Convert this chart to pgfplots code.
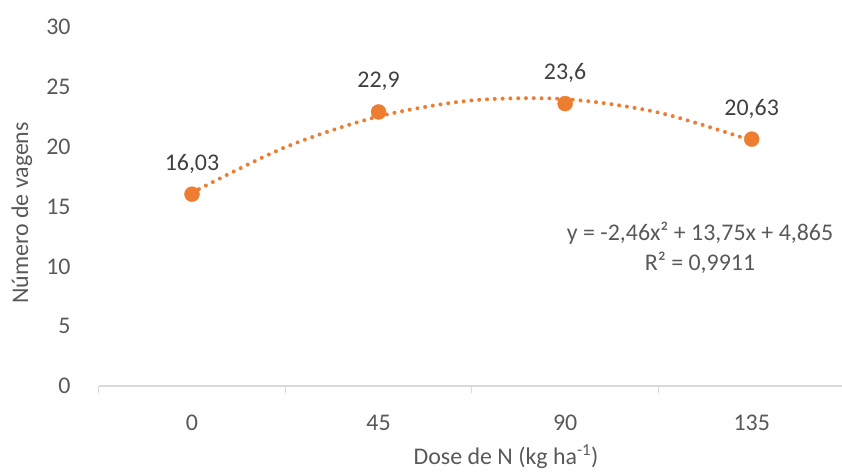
\documentclass[border=0pt]{standalone}
\usepackage{fontspec}
\setmainfont{Carlito}
\usepackage{pgfplots}
\pgfplotsset{compat=1.18}
\usepackage{pgfplotstable}
\definecolor{orng}{HTML}{ED7D31}
\definecolor{txt}{HTML}{595959}
\definecolor{lbl}{HTML}{404040}
\definecolor{axln}{HTML}{D9D9D9}
\pgfplotstableread{
x y label
1 16.03 16,03
2 22.9 22,9
3 23.6 23,6
4 20.63 20,63
}\dados
\pgfplotstableread{
x y
1 16.155
1.5 19.955
2 22.525
2.5 23.865
3 23.975
3.5 22.855
4 20.505
}\tendencia
\newcommand{\fs}{\fontsize{24pt}{28pt}\selectfont}
\begin{document}
\fs
\begin{tikzpicture}
\useasboundingbox (-98.7bp,-86bp) rectangle (743.3bp,386bp);
\begin{axis}[
  at={(0,0)}, anchor=south west,
  scale only axis, width=743.3bp, height=359bp,
  xmin=0.5, xmax=4.484, ymin=0, ymax=30,
  axis x line*=bottom, axis y line*=left,
  x axis line style={draw=axln, line width=1.2bp, -},
  y axis line style={draw=none},
  xtick={1,2,3,4}, xticklabels={0,45,90,135},
  major x tick style={draw=none},
  minor xtick={0.5,1.5,2.5,3.5},
  minor x tick style={draw=axln, line width=1.2bp},
  minor tick length=7bp,
  tick align=outside,
  ytick={0,5,...,30}, major y tick style={draw=none},
  /pgf/number format/assume math mode=true,
  every tick label/.append style={font=\fs, color=txt},
  xticklabel style={anchor=north, inner sep=0pt, yshift=-24.5bp},
  yticklabel style={anchor=east, inner sep=0pt},
  yticklabel shift=23.7bp,
  xlabel={Dose de N (kg ha\textsuperscript{-1})},
  ylabel={Número de vagens},
  xlabel style={at={(axis description cs:0.548,-0.1978)}, anchor=center, color=txt, font=\fs},
  ylabel style={at={(axis description cs:-0.1032,0.482)}, anchor=center, color=txt, font=\fs},
  clip=false,
]
\addplot[orng, line width=4bp, line cap=round, dash pattern=on 0bp off 7.8bp, smooth, tension=0.5] table[x=x,y=y] {\tendencia};
\addplot[only marks, mark=*, mark size=7.5bp, mark options={fill=orng, draw=orng},
  point meta=explicit symbolic,
  nodes near coords,
  every node near coord/.append style={anchor=base, inner sep=0pt, yshift=24bp, color=lbl, font=\fs}]
  table[x=x, y=y, meta=label] {\dados};
\node[color=txt, font=\fs] at (axis description cs:0.809,0.426) {y = -2,46x² + 13,75x + 4,865};
\node[color=txt, font=\fs] at (axis description cs:0.809,0.343) {R² = 0,9911};
\end{axis}
\end{tikzpicture}
\end{document}
